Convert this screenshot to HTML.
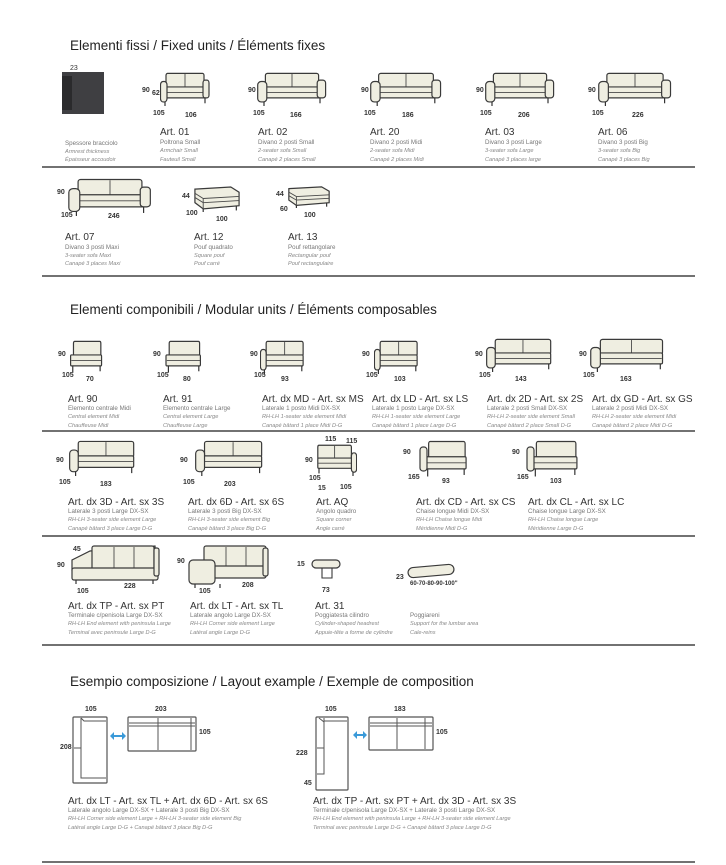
<!DOCTYPE html>
<html><head><meta charset="utf-8">
<style>
html,body{margin:0;padding:0;background:#fff;}
svg{display:block;}
.t{font-family:"Liberation Sans",sans-serif;font-size:13.5px;fill:#222;}
.a{font-family:"Liberation Sans Narrow","Liberation Sans",sans-serif;font-size:10px;fill:#333;}
.d{font-family:"Liberation Sans Narrow","Liberation Sans",sans-serif;font-size:6.2px;fill:#777;}
.i{font-family:"Liberation Sans Narrow","Liberation Sans",sans-serif;font-size:5.6px;fill:#888;font-style:italic;}
.n{font-family:"Liberation Sans Narrow","Liberation Sans",sans-serif;font-size:7px;font-weight:bold;fill:#333;}
.s{fill:#efeee1;stroke:#3a3a3a;stroke-width:1.2;}
.ln{stroke:#444;stroke-width:1.6;}
.p{fill:#fff;stroke:#555;stroke-width:1.2;}
.il{stroke:#4a4a4a;stroke-width:0.9;}
</style></head><body>
<svg width="726" height="865" viewBox="0 0 726 865" xmlns="http://www.w3.org/2000/svg">
<defs>
<symbol id="sofa" viewBox="0 0 100 50" preserveAspectRatio="none">
<rect class="s" x="12" y="2" width="76" height="22" rx="3" vector-effect="non-scaling-stroke"/>
<line class="il" x1="50" y1="3" x2="50" y2="24" vector-effect="non-scaling-stroke"/>
<rect class="s" x="9" y="22" width="82" height="16" rx="2" vector-effect="non-scaling-stroke"/>
<line class="il" x1="10" y1="30" x2="90" y2="30" vector-effect="non-scaling-stroke"/>
<rect class="s" x="1" y="14" width="13" height="30" rx="5" vector-effect="non-scaling-stroke"/>
<rect class="s" x="86" y="12" width="12" height="26" rx="4" vector-effect="non-scaling-stroke"/>
<line x1="10" y1="44" x2="10" y2="50" stroke="#333" stroke-width="1.2" vector-effect="non-scaling-stroke"/>
<line x1="90" y1="38" x2="90" y2="46" stroke="#333" stroke-width="1.2" vector-effect="non-scaling-stroke"/>
</symbol>
<symbol id="mod" viewBox="0 0 100 50" preserveAspectRatio="none">
<rect class="s" x="18" y="2" width="76" height="22" rx="3" vector-effect="non-scaling-stroke"/>
<rect class="s" x="10" y="22" width="86" height="16" rx="2" vector-effect="non-scaling-stroke"/>
<line class="il" x1="12" y1="30" x2="95" y2="30" vector-effect="non-scaling-stroke"/>
<line x1="16" y1="38" x2="16" y2="48" stroke="#333" stroke-width="1.2" vector-effect="non-scaling-stroke"/>
<line x1="92" y1="38" x2="92" y2="46" stroke="#333" stroke-width="1.2" vector-effect="non-scaling-stroke"/>
</symbol>
<symbol id="side" viewBox="0 0 100 50" preserveAspectRatio="none">
<rect class="s" x="14" y="2" width="84" height="22" rx="3" vector-effect="non-scaling-stroke"/>
<line class="il" x1="56" y1="3" x2="56" y2="24" vector-effect="non-scaling-stroke"/>
<rect class="s" x="9" y="22" width="89" height="16" rx="2" vector-effect="non-scaling-stroke"/>
<line class="il" x1="10" y1="30" x2="97" y2="30" vector-effect="non-scaling-stroke"/>
<rect class="s" x="1" y="14" width="13" height="30" rx="5" vector-effect="non-scaling-stroke"/>
<line x1="10" y1="44" x2="10" y2="50" stroke="#333" stroke-width="1.2" vector-effect="non-scaling-stroke"/>
<line x1="95" y1="38" x2="95" y2="46" stroke="#333" stroke-width="1.2" vector-effect="non-scaling-stroke"/>
</symbol>
<symbol id="pouf" viewBox="0 0 100 50" preserveAspectRatio="none">
<path class="s" d="M2 6 L80 2 L98 12 L98 38 L20 44 L2 32 Z" vector-effect="non-scaling-stroke"/>
<path class="il" d="M2 14 L20 24 L98 20 M20 24 L20 44 M2 22 L20 32 L98 28" fill="none" vector-effect="non-scaling-stroke"/>
<line x1="20" y1="44" x2="20" y2="50" stroke="#333" stroke-width="1.2" vector-effect="non-scaling-stroke"/>
<line x1="92" y1="38" x2="92" y2="47" stroke="#333" stroke-width="1.2" vector-effect="non-scaling-stroke"/>
</symbol>
</defs>

<!-- Section 1 -->
<text class="t" x="70" y="50">Elementi fissi / Fixed units / Éléments fixes</text>
<rect x="62" y="72" width="42" height="42" fill="#3f3f42"/>
<rect x="62" y="76" width="10" height="34" fill="#2a2a2c"/>
<text x="70" y="70" font-family="Liberation Sans" font-size="7" fill="#333">23</text>
<text class="d" x="65" y="145">Spessore bracciolo</text><text class="i" x="65" y="153">Armrest thickness</text><text class="i" x="65" y="161">Épaisseur accoudoir</text>

<use href="#sofa" x="160" y="72" width="50" height="34"/>
<text class="n" x="142" y="92">90</text><text class="n" x="152" y="95">62</text><text class="n" x="153" y="115">105</text><text class="n" x="185" y="117">106</text>
<text class="a" x="160" y="135">Art. 01</text><text class="d" x="160" y="144">Poltrona Small</text><text class="i" x="160" y="152">Armchair Small</text><text class="i" x="160" y="161">Fauteuil Small</text>

<use href="#sofa" x="257" y="72" width="70" height="34"/>
<text class="n" x="248" y="92">90</text><text class="n" x="253" y="115">105</text><text class="n" x="290" y="117">166</text>
<text class="a" x="258" y="135">Art. 02</text><text class="d" x="258" y="144">Divano 2 posti Small</text><text class="i" x="258" y="152">2-seater sofa Small</text><text class="i" x="258" y="161">Canapé 2 places Small</text>

<use href="#sofa" x="370" y="72" width="72" height="34"/>
<text class="n" x="361" y="92">90</text><text class="n" x="364" y="115">105</text><text class="n" x="402" y="117">186</text>
<text class="a" x="370" y="135">Art. 20</text><text class="d" x="370" y="144">Divano 2 posti Midi</text><text class="i" x="370" y="152">2-seater sofa Midi</text><text class="i" x="370" y="161">Canapé 2 places Midi</text>

<use href="#sofa" x="485" y="72" width="70" height="34"/>
<text class="n" x="476" y="92">90</text><text class="n" x="480" y="115">105</text><text class="n" x="518" y="117">206</text>
<text class="a" x="485" y="135">Art. 03</text><text class="d" x="485" y="144">Divano 3 posti Large</text><text class="i" x="485" y="152">3-seater sofa Large</text><text class="i" x="485" y="161">Canapé 3 places large</text>

<use href="#sofa" x="598" y="72" width="74" height="34"/>
<text class="n" x="588" y="92">90</text><text class="n" x="592" y="115">105</text><text class="n" x="632" y="117">226</text>
<text class="a" x="598" y="135">Art. 06</text><text class="d" x="598" y="144">Divano 3 posti Big</text><text class="i" x="598" y="152">3-seater sofa Big</text><text class="i" x="598" y="161">Canapé 3 places Big</text>

<line class="ln" x1="42" y1="167" x2="695" y2="167"/>

<use href="#sofa" x="68" y="178" width="84" height="38"/>
<text class="n" x="57" y="194">90</text><text class="n" x="61" y="217">105</text><text class="n" x="108" y="218">246</text>
<text class="a" x="65" y="240">Art. 07</text><text class="d" x="65" y="249">Divano 3 posti Maxi</text><text class="i" x="65" y="257">3-seater sofa Maxi</text><text class="i" x="65" y="265">Canapé 3 places Maxi</text>

<use href="#pouf" x="194" y="186" width="46" height="26"/>
<text class="n" x="182" y="198">44</text><text class="n" x="186" y="215">100</text><text class="n" x="216" y="221">100</text>
<text class="a" x="194" y="240">Art. 12</text><text class="d" x="194" y="249">Pouf quadrato</text><text class="i" x="194" y="257">Square pouf</text><text class="i" x="194" y="265">Pouf carré</text>

<use href="#pouf" x="288" y="186" width="42" height="22"/>
<text class="n" x="276" y="196">44</text><text class="n" x="280" y="211">60</text><text class="n" x="304" y="217">100</text>
<text class="a" x="288" y="240">Art. 13</text><text class="d" x="288" y="249">Pouf rettangolare</text><text class="i" x="288" y="257">Rectangular pouf</text><text class="i" x="288" y="265">Pouf rectangulaire</text>

<line class="ln" x1="42" y1="276" x2="695" y2="276"/>

<!-- Section 2 -->
<text class="t" x="70" y="314">Elementi componibili / Modular units / Éléments composables</text>

<use href="#mod" x="67" y="340" width="36" height="34"/>
<text class="n" x="58" y="356">90</text><text class="n" x="62" y="377">105</text><text class="n" x="86" y="381">70</text>
<text class="a" x="68" y="402">Art. 90</text><text class="d" x="68" y="410">Elemento centrale Midi</text><text class="i" x="68" y="418">Central element Midi</text><text class="i" x="68" y="427">Chauffeuse Midi</text>

<use href="#mod" x="162" y="340" width="40" height="34"/>
<text class="n" x="153" y="356">90</text><text class="n" x="157" y="377">105</text><text class="n" x="183" y="381">80</text>
<text class="a" x="163" y="402">Art. 91</text><text class="d" x="163" y="410">Elemento centrale Large</text><text class="i" x="163" y="418">Central element Large</text><text class="i" x="163" y="427">Chauffeuse Large</text>

<use href="#side" x="260" y="340" width="44" height="34"/>
<text class="n" x="250" y="356">90</text><text class="n" x="254" y="377">105</text><text class="n" x="281" y="381">93</text>
<text class="a" x="262" y="402">Art. dx MD - Art. sx MS</text><text class="d" x="262" y="410">Laterale 1 posto Midi DX-SX</text><text class="i" x="262" y="418">RH-LH 1-seater side element Midi</text><text class="i" x="262" y="427">Canapé bâtard 1 place Midi D-G</text>

<use href="#side" x="374" y="340" width="44" height="34"/>
<text class="n" x="362" y="356">90</text><text class="n" x="366" y="377">105</text><text class="n" x="394" y="381">103</text>
<text class="a" x="372" y="402">Art. dx LD - Art. sx LS</text><text class="d" x="372" y="410">Laterale 1 posto Large DX-SX</text><text class="i" x="372" y="418">RH-LH 1-seater side element Large</text><text class="i" x="372" y="427">Canapé bâtard 1 place Large D-G</text>

<use href="#side" x="486" y="338" width="66" height="34"/>
<text class="n" x="475" y="356">90</text><text class="n" x="479" y="377">105</text><text class="n" x="515" y="381">143</text>
<text class="a" x="487" y="402">Art. dx 2D - Art. sx 2S</text><text class="d" x="487" y="410">Laterale 2 posti Small DX-SX</text><text class="i" x="487" y="418">RH-LH 2-seater side element Small</text><text class="i" x="487" y="427">Canapé bâtard 2 place Small D-G</text>

<use href="#side" x="590" y="338" width="74" height="34"/>
<text class="n" x="579" y="356">90</text><text class="n" x="583" y="377">105</text><text class="n" x="620" y="381">163</text>
<text class="a" x="592" y="402">Art. dx GD - Art. sx GS</text><text class="d" x="592" y="410">Laterale 2 posti Midi DX-SX</text><text class="i" x="592" y="418">RH-LH 2-seater side element Midi</text><text class="i" x="592" y="427">Canapé bâtard 2 place Midi D-G</text>

<line class="ln" x1="42" y1="431" x2="695" y2="431"/>

<use href="#side" x="69" y="440" width="66" height="36"/>
<text class="n" x="56" y="462">90</text><text class="n" x="59" y="484">105</text><text class="n" x="100" y="486">183</text>
<text class="a" x="68" y="505">Art. dx 3D - Art. sx 3S</text><text class="d" x="68" y="513">Laterale 3 posti Large DX-SX</text><text class="i" x="68" y="521">RH-LH 3-seater side element Large</text><text class="i" x="68" y="530">Canapé bâtard 3 place Large D-G</text>

<use href="#side" x="195" y="440" width="68" height="36"/>
<text class="n" x="180" y="462">90</text><text class="n" x="183" y="484">105</text><text class="n" x="224" y="486">203</text>
<text class="a" x="188" y="505">Art. dx 6D - Art. sx 6S</text><text class="d" x="188" y="513">Laterale 3 posti Big DX-SX</text><text class="i" x="188" y="521">RH-LH 3-seater side element Big</text><text class="i" x="188" y="530">Canapé bâtard 3 place Big D-G</text>

<use href="#side" x="317" y="444" width="40" height="32" transform="translate(674 0) scale(-1 1)"/>
<text class="n" x="325" y="441">115</text><text class="n" x="346" y="443">115</text>
<text class="n" x="305" y="462">90</text><text class="n" x="309" y="480">105</text><text class="n" x="318" y="490">15</text><text class="n" x="340" y="489">105</text>
<text class="a" x="316" y="505">Art. AQ</text><text class="d" x="316" y="513">Angolo quadro</text><text class="i" x="316" y="521">Square corner</text><text class="i" x="316" y="530">Angle carré</text>

<use href="#mod" x="420" y="440" width="48" height="38"/>
<rect class="s" x="420" y="447" width="7" height="24" rx="3"/>
<text class="n" x="403" y="454">90</text><text class="n" x="408" y="479">165</text><text class="n" x="442" y="483">93</text>
<text class="a" x="416" y="505">Art. dx CD - Art. sx CS</text><text class="d" x="416" y="513">Chaise longue Midi DX-SX</text><text class="i" x="416" y="521">RH-LH Chaise longue Midi</text><text class="i" x="416" y="530">Méridienne Midi D-G</text>

<use href="#mod" x="527" y="440" width="52" height="38"/>
<rect class="s" x="527" y="447" width="7" height="24" rx="3"/>
<text class="n" x="512" y="454">90</text><text class="n" x="517" y="479">165</text><text class="n" x="550" y="483">103</text>
<text class="a" x="528" y="505">Art. dx CL - Art. sx LC</text><text class="d" x="528" y="513">Chaise longue Large DX-SX</text><text class="i" x="528" y="521">RH-LH Chaise longue Large</text><text class="i" x="528" y="530">Méridienne Large D-G</text>

<line class="ln" x1="42" y1="536" x2="695" y2="536"/>

<!-- row 5 -->
<path class="s" d="M90 551 L155 546 L157 575 L100 578 L72 570 L72 560 Z"/>
<rect class="s" x="92" y="546" width="62" height="24" rx="2"/>
<line class="il" x1="114" y1="547" x2="114" y2="568"/>
<line class="il" x1="134" y1="547" x2="134" y2="568"/>
<rect class="s" x="72" y="568" width="86" height="12" rx="2"/>
<rect class="s" x="154" y="548" width="5" height="28" rx="2"/>
<line x1="76" y1="580" x2="76" y2="584" stroke="#333" stroke-width="1.2"/><line x1="153" y1="580" x2="153" y2="584" stroke="#333" stroke-width="1.2"/>
<text class="n" x="73" y="551">45</text><text class="n" x="57" y="567">90</text><text class="n" x="77" y="593">105</text><text class="n" x="124" y="588">228</text>
<text class="a" x="68" y="609">Art. dx TP - Art. sx PT</text><text class="d" x="68" y="617">Terminale c/penisola Large DX-SX</text><text class="i" x="68" y="625">RH-LH End element with peninsula Large</text><text class="i" x="68" y="634">Terminal avec peninsule Large D-G</text>

<rect class="s" x="204" y="546" width="62" height="24" rx="2"/>
<line class="il" x1="226" y1="547" x2="226" y2="568"/>
<line class="il" x1="246" y1="547" x2="246" y2="568"/>
<rect class="s" x="200" y="566" width="66" height="12" rx="2"/>
<rect class="s" x="263" y="548" width="5" height="28" rx="2"/>
<rect class="s" x="189" y="560" width="26" height="24" rx="4"/>
<line x1="195" y1="584" x2="195" y2="588" stroke="#333" stroke-width="1.2"/><line x1="220" y1="584" x2="220" y2="588" stroke="#333" stroke-width="1.2"/>
<text class="n" x="177" y="563">90</text><text class="n" x="199" y="593">105</text><text class="n" x="242" y="587">208</text>
<text class="a" x="190" y="609">Art. dx LT - Art. sx TL</text><text class="d" x="190" y="617">Laterale angolo Large DX-SX</text><text class="i" x="190" y="625">RH-LH Corner side element Large</text><text class="i" x="190" y="634">Latéral angle Large D-G</text>

<rect class="s" x="312" y="560" width="28" height="8" rx="4"/>
<path d="M322 568 L322 578 L332 578 L332 568" fill="none" stroke="#3a3a3a" stroke-width="1.1"/>
<text class="n" x="297" y="566">15</text><text class="n" x="322" y="592">73</text>
<text class="a" x="315" y="609">Art. 31</text><text class="d" x="315" y="617">Poggiatesta cilindro</text><text class="i" x="315" y="625">Cylinder-shaped headrest</text><text class="i" x="315" y="634">Appuie-tête a forme de cylindre</text>

<rect class="s" x="408" y="566" width="46" height="10" rx="5" transform="rotate(-5 431 571)"/>
<text class="n" x="396" y="579">23</text><text font-family="Liberation Sans Narrow,Liberation Sans" font-size="6" font-weight="bold" fill="#333" x="410" y="585">60-70-80-90-100"</text>
<text class="d" x="410" y="617">Poggiareni</text><text class="i" x="410" y="625">Support for the lumbar area</text><text class="i" x="410" y="634">Cale-reins</text>

<line class="ln" x1="42" y1="645" x2="695" y2="645"/>

<!-- Section 3 -->
<text class="t" x="70" y="686">Esempio composizione / Layout example / Exemple de composition</text>

<rect class="p" x="73" y="717" width="34" height="66" rx="1"/>
<path d="M81 718 L81 778 L106 778 M81 718 L84 721 L106 721 M74 748 L81 748" fill="none" stroke="#555" stroke-width="1"/>
<rect class="p" x="128" y="717" width="68" height="34" rx="1"/>
<path d="M129 723 L195 723 M129 726 L195 726 M158 718 L158 750 M191 718 L191 750" fill="none" stroke="#555" stroke-width="1"/>
<text class="n" x="85" y="711">105</text><text class="n" x="155" y="711">203</text><text class="n" x="199" y="734">105</text><text class="n" x="60" y="749">208</text>
<path d="M112 736 L124 736" stroke="#3a9ad9" stroke-width="2"/><path d="M110 736 L114 732 L114 740 Z M126 736 L122 732 L122 740 Z" fill="#3a9ad9"/>
<text class="a" x="68" y="804">Art. dx LT - Art. sx TL + Art. dx 6D - Art. sx 6S</text>
<text class="d" x="68" y="812">Laterale angolo Large DX-SX + Laterale 3 posti Big DX-SX</text>
<text class="i" x="68" y="820">RH-LH Corner side element Large + RH-LH 3-seater side element Big</text>
<text class="i" x="68" y="829">Latéral angle Large D-G + Canapé bâtard 3 place Big D-G</text>

<rect class="p" x="316" y="717" width="32" height="73" rx="1"/>
<path d="M324 718 L324 774 L317 774 M317 748 L324 748 M324 721 L347 721 M319 718 L324 722" fill="none" stroke="#555" stroke-width="1"/>
<rect class="p" x="369" y="717" width="64" height="33" rx="1"/>
<path d="M370 723 L432 723 M370 726 L432 726 M397 718 L397 749 M425 718 L425 749" fill="none" stroke="#555" stroke-width="1"/>
<text class="n" x="325" y="711">105</text><text class="n" x="394" y="711">183</text><text class="n" x="436" y="734">105</text><text class="n" x="296" y="755">228</text><text class="n" x="304" y="785">45</text>
<path d="M355 735 L365 735" stroke="#3a9ad9" stroke-width="2"/><path d="M353 735 L357 731 L357 739 Z M367 735 L363 731 L363 739 Z" fill="#3a9ad9"/>
<text class="a" x="313" y="804">Art. dx TP - Art. sx PT + Art. dx 3D - Art. sx 3S</text>
<text class="d" x="313" y="812">Terminale c/penisola Large DX-SX + Laterale 3 posti Large DX-SX</text>
<text class="i" x="313" y="820">RH-LH End element with peninsula Large + RH-LH 3-seater side element Large</text>
<text class="i" x="313" y="829">Terminal avec peninsule Large D-G + Canapé bâtard 3 place Large D-G</text>

<line class="ln" x1="42" y1="862" x2="695" y2="862"/>
</svg>
</body></html>
